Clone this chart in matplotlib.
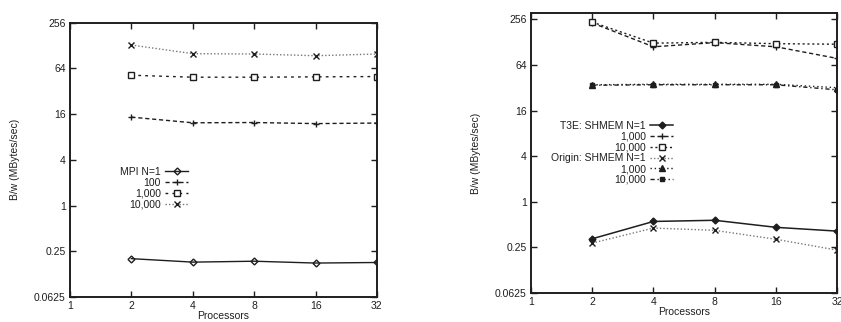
import matplotlib.pyplot as plt

plt.rcParams["font.family"] = ["Liberation Sans", "DejaVu Sans"]

procs = [2, 4, 8, 16, 32]

# left panel: MPI
mpi_n1 = [0.20, 0.18, 0.185, 0.175, 0.178]
mpi_100 = [14.6, 12.3, 12.4, 12.0, 12.2]
mpi_1000 = [52, 49, 49, 49.5, 50]
mpi_10000 = [130, 100, 99, 94, 99]

# right panel: SHMEM
t3e_n1 = [0.325, 0.55, 0.57, 0.46, 0.41]
t3e_1000 = [229, 111, 126, 111, 78]
t3e_10000 = [235, 124, 127, 122, 120]
origin_n1 = [0.285, 0.45, 0.42, 0.32, 0.23]
origin_1000 = [35, 35.5, 35.5, 35.5, 32]
origin_10000 = [34.5, 35, 35, 35, 30]

xticks = [1, 2, 4, 8, 16, 32]
xticklabels = ["1", "2", "4", "8", "16", "32"]
yticks = [0.0625, 0.25, 1, 4, 16, 64, 256]
yticklabels = ["0.0625", "0.25", "1", "4", "16", "64", "256"]

fig = plt.figure(figsize=(8.41, 3.22), dpi=100)
ax1 = fig.add_axes([0.0832, 0.0776, 0.365, 0.852])
ax2 = fig.add_axes([0.6314, 0.09, 0.364, 0.87])

ink = "#1e1e1e"
grey = "#777777"


def style_axes(ax, ytop):
    ax.set_xscale("log", base=2)
    ax.set_yscale("log", base=2)
    ax.set_xlim(1, 32)
    ax.set_ylim(0.0625, ytop)
    ax.set_xticks(xticks)
    ax.set_xticklabels(xticklabels)
    ax.set_yticks(yticks)
    ax.set_yticklabels(yticklabels)
    ax.minorticks_off()
    ax.tick_params(direction="in", top=True, right=True, length=4, width=1,
                   labelsize=7.5, colors=ink, pad=3)
    for s in ax.spines.values():
        s.set_linewidth(1.4)
        s.set_color(ink)
    ax.set_xlabel("Processors", fontsize=7.5, color=ink, labelpad=0)
    ax.set_ylabel("B/w (MBytes/sec)", fontsize=7.5, color=ink, labelpad=10)


style_axes(ax1, 256)
ax1.plot(procs, mpi_n1, color=ink, lw=1, ls="-", marker="D", ms=3.5,
         mfc="none", mew=1, label="MPI N=1")
ax1.plot(procs, mpi_100, color=ink, lw=1, ls=(0, (3, 2)), marker="+", ms=5,
         mew=1, label="100")
ax1.plot(procs, mpi_1000, color=ink, lw=1, ls=(0, (2, 3)), marker="s", ms=5,
         mfc="white", mew=1, label="1,000")
ax1.plot(procs, mpi_10000, color=grey, lw=1, ls=(0, (1, 1.5)), marker="x", ms=5,
         mec=ink, mew=1, label="10,000")
ax1.legend(loc="upper right", bbox_to_anchor=(0.385, 0.475), frameon=False,
           markerfirst=False, fontsize=7.5, labelspacing=0.08, handlelength=2.2,
           handletextpad=0.4, borderpad=0, borderaxespad=0, labelcolor=ink)

style_axes(ax2, 311)
ax2.plot(procs, t3e_n1, color=ink, lw=1.1, ls="-", marker="D", ms=3.5,
         label="T3E: SHMEM N=1")
ax2.plot(procs, t3e_1000, color=ink, lw=1, ls=(0, (3, 2)), marker="+", ms=5,
         mew=1, label="1,000")
ax2.plot(procs, t3e_10000, color=ink, lw=1, ls=(0, (1.5, 2)), marker="s", ms=5,
         mfc="white", mew=1, label="10,000")
ax2.plot(procs, origin_n1, color=grey, lw=1, ls=(0, (1, 1.5)), marker="x", ms=5,
         mec=ink, mew=1, label="Origin: SHMEM N=1")
ax2.plot(procs, origin_1000, color=ink, lw=1, ls=(0, (1, 2)), marker="^", ms=4,
         label="1,000")
ax2.plot(procs, origin_10000, color=ink, lw=1, ls=(0, (3, 2, 1, 2)), marker="s",
         ms=3.5, label="10,000")
ax2.legend(loc="upper right", bbox_to_anchor=(0.464, 0.615), frameon=False,
           markerfirst=False, fontsize=7.5, labelspacing=0.08, handlelength=2.2,
           handletextpad=0.4, borderpad=0, borderaxespad=0, labelcolor=ink)

fig.savefig("out.png", dpi=100)
